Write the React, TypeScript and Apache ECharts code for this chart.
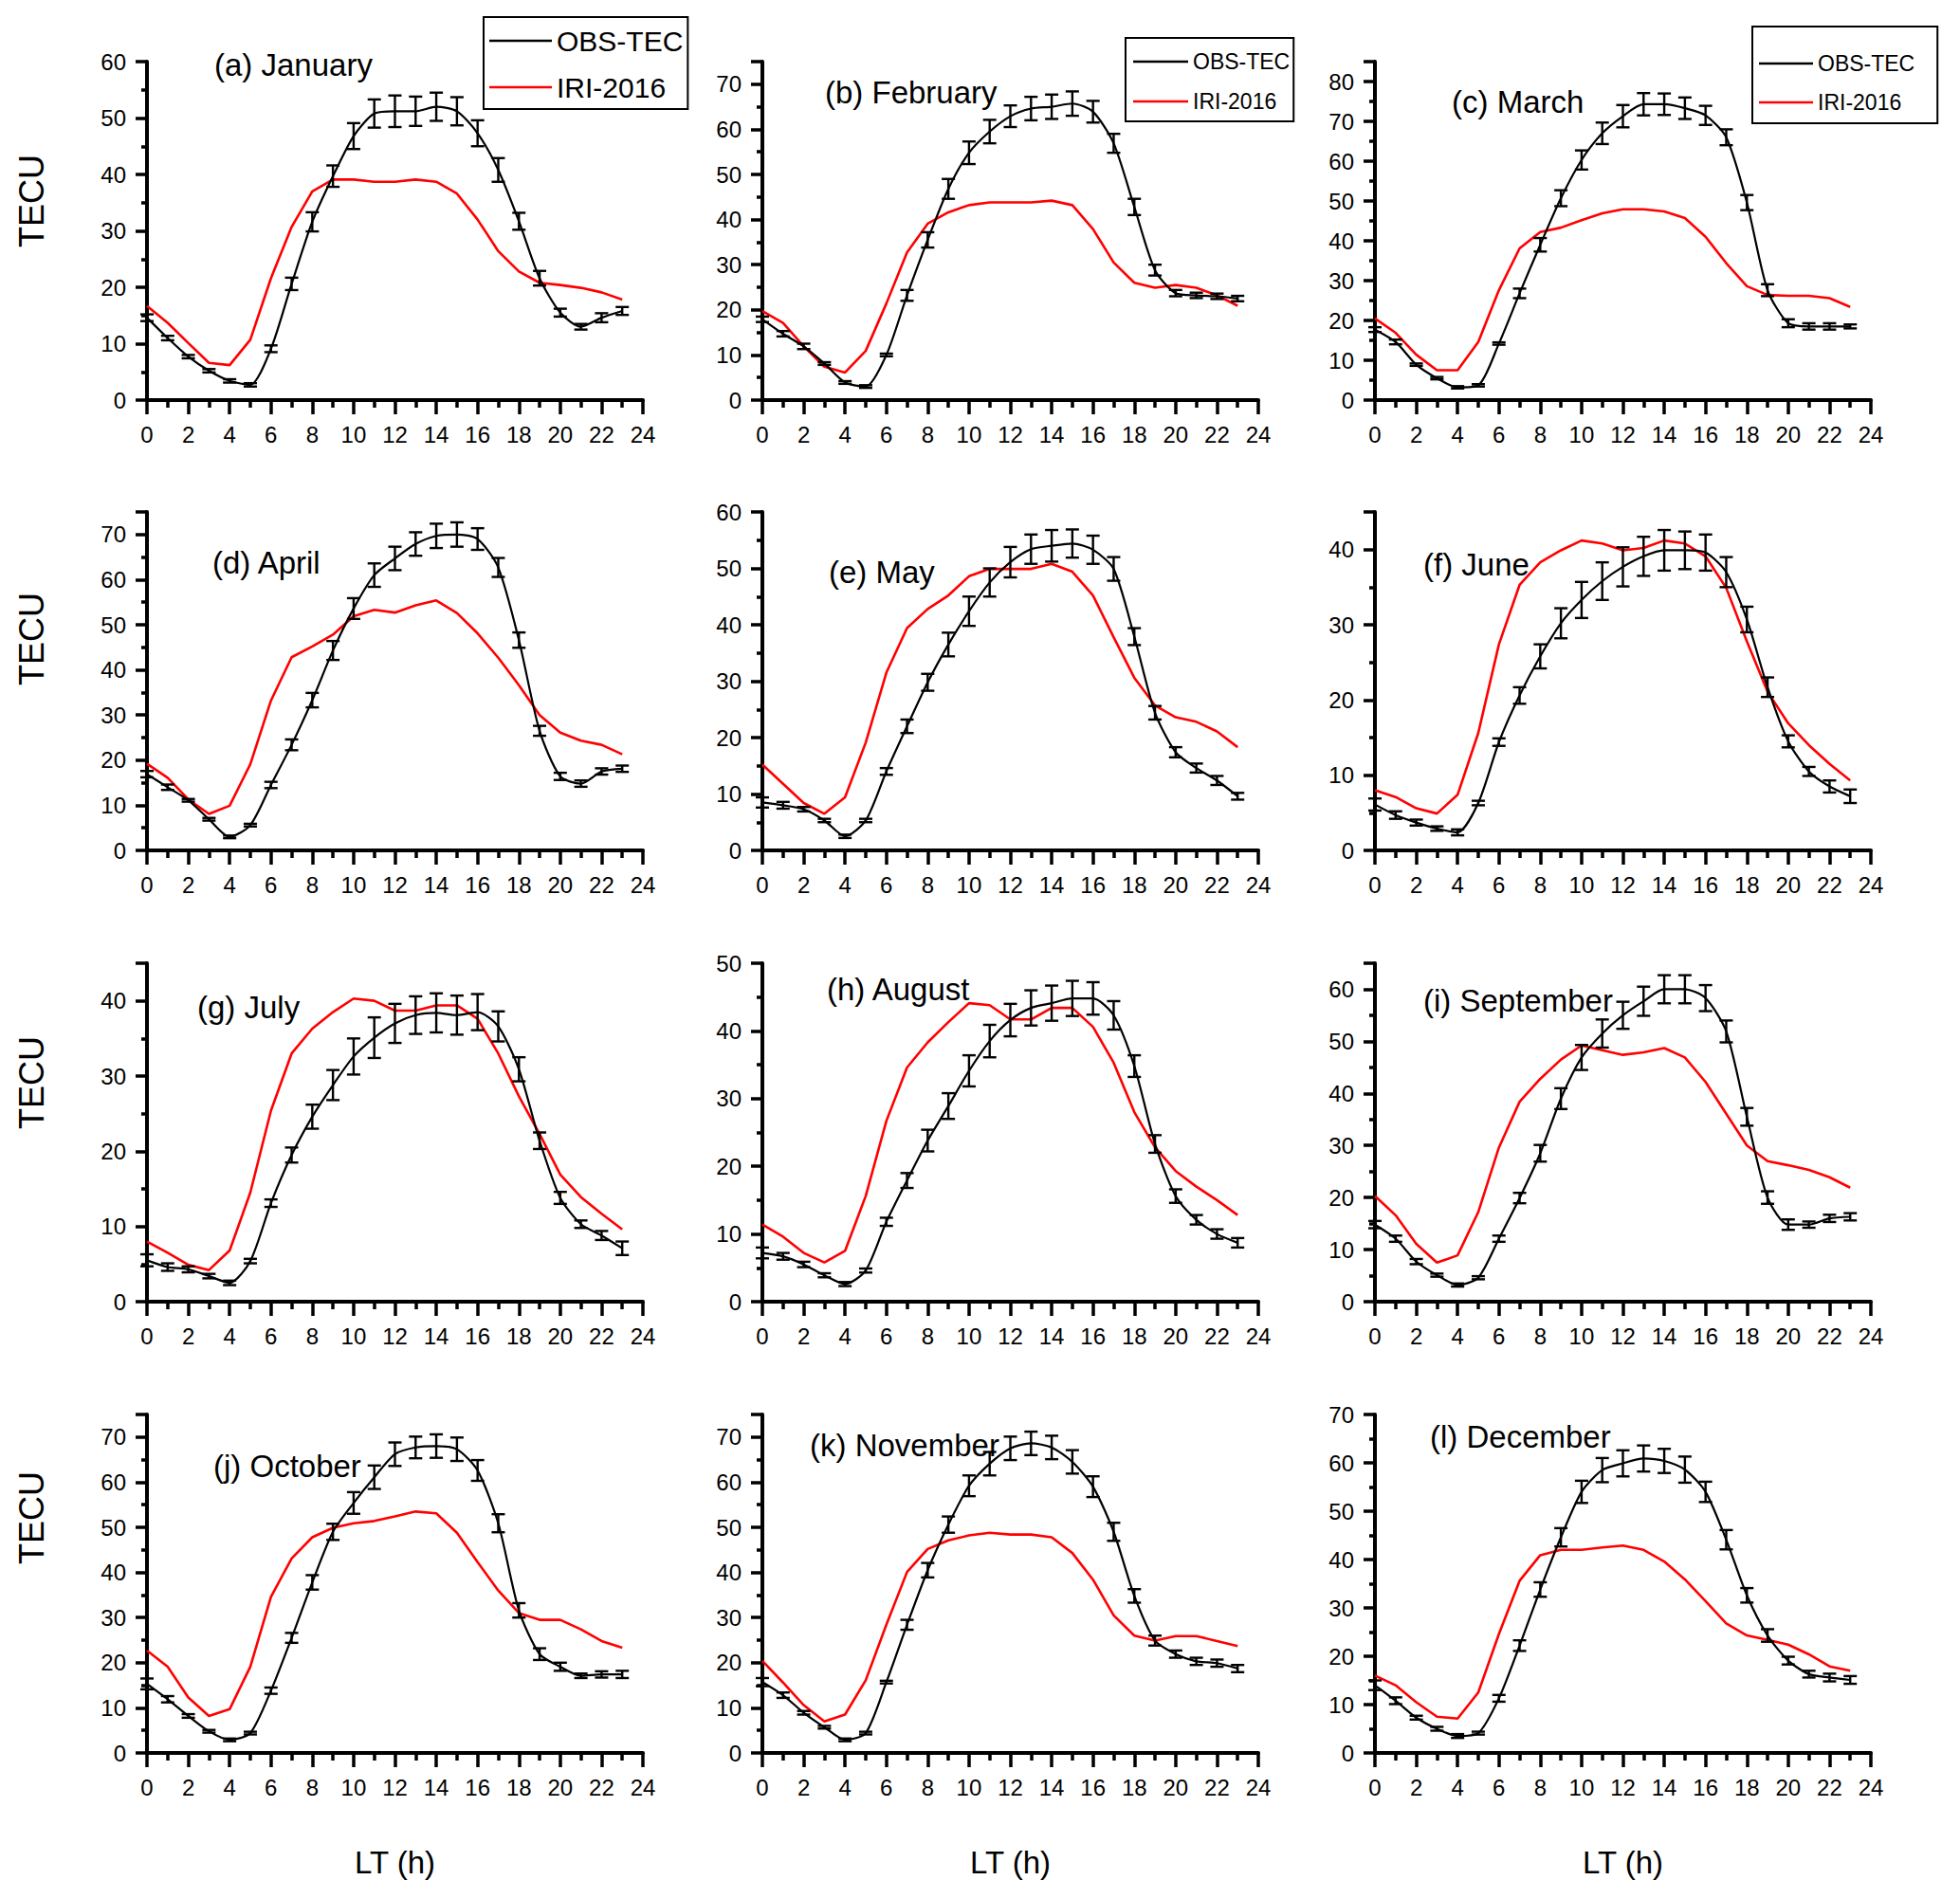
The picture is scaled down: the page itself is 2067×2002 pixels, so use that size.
import React, { useEffect, useRef } from "react";
import * as echarts from "echarts";

// ---------- DATA ----------
const hours = [0, 1, 2, 3, 4, 5, 6, 7, 8, 9, 10, 11, 12, 13, 14, 15, 16, 17, 18, 19, 20, 21, 22, 23];

const obsJan = [14.6, 11.0, 7.7, 5.2, 3.4, 2.7, 9.1, 20.6, 31.6, 39.7, 46.8, 50.8, 51.2, 51.2, 52.0, 51.2, 47.3, 40.8, 31.7, 21.6, 15.5, 13.0, 14.6, 15.8];
const errJan = [0.6, 0.4, 0.3, 0.3, 0.3, 0.3, 0.6, 1.1, 1.7, 1.9, 2.3, 2.5, 2.8, 2.6, 2.5, 2.5, 2.3, 2.1, 1.5, 1.3, 0.7, 0.5, 0.8, 0.7];
const iriJan = [16.7, 13.7, 10.1, 6.6, 6.2, 10.7, 21.6, 30.7, 37.0, 39.1, 39.1, 38.7, 38.7, 39.1, 38.7, 36.6, 32.0, 26.4, 22.8, 20.8, 20.4, 19.9, 19.1, 17.8];

const obsFeb = [17.9, 14.7, 11.9, 8.1, 3.9, 3.0, 10.0, 23.2, 35.5, 46.8, 54.8, 59.5, 62.9, 64.6, 65.0, 65.7, 63.9, 56.9, 42.8, 28.8, 23.7, 23.2, 23.0, 22.5];
const errFeb = [0.6, 0.6, 0.6, 0.3, 0.3, 0.3, 0.3, 1.2, 1.7, 2.2, 2.5, 2.6, 2.4, 2.6, 2.7, 2.7, 2.4, 2.1, 1.8, 1.2, 0.7, 0.6, 0.6, 0.6];
const iriFeb = [19.7, 17.1, 11.9, 7.4, 6.1, 10.9, 21.4, 32.7, 39.1, 41.6, 43.2, 43.8, 43.8, 43.8, 44.2, 43.2, 37.9, 30.5, 26.0, 24.9, 25.5, 24.9, 23.2, 20.9];

const obsMar = [17.7, 14.6, 8.9, 5.5, 3.2, 3.7, 14.2, 26.8, 39.0, 50.7, 60.3, 67.0, 71.3, 74.3, 74.3, 73.3, 71.5, 66.0, 49.6, 27.6, 19.3, 18.5, 18.5, 18.5];
const errMar = [0.6, 0.6, 0.3, 0.3, 0.3, 0.3, 0.3, 1.2, 1.7, 2.0, 2.4, 2.7, 2.8, 2.8, 2.7, 2.7, 2.4, 2.0, 1.9, 1.5, 1.0, 0.8, 0.8, 0.5];
const iriMar = [20.5, 16.9, 11.4, 7.5, 7.5, 14.6, 27.6, 38.1, 42.2, 43.3, 45.2, 46.9, 47.9, 47.9, 47.4, 45.7, 41.0, 34.4, 28.6, 26.4, 26.2, 26.2, 25.6, 23.4];

const obsApr = [16.9, 14.0, 11.1, 6.9, 3.0, 5.6, 14.5, 23.4, 33.3, 44.3, 53.6, 61.0, 64.7, 67.9, 69.7, 70.0, 69.0, 62.7, 46.6, 26.5, 16.4, 14.8, 17.5, 18.1];
const errApr = [0.7, 0.6, 0.3, 0.3, 0.3, 0.3, 0.7, 1.2, 1.6, 2.1, 2.3, 2.6, 2.6, 2.6, 2.7, 2.7, 2.4, 2.1, 1.7, 1.1, 0.8, 0.7, 0.7, 0.7];
const iriApr = [19.2, 16.1, 11.3, 8.1, 9.9, 19.1, 33.2, 42.8, 45.2, 47.8, 51.9, 53.3, 52.7, 54.3, 55.4, 52.6, 48.1, 42.7, 36.6, 30.0, 26.1, 24.3, 23.4, 21.3];

const obsMay = [8.5, 8.0, 7.3, 5.3, 2.5, 5.3, 14.0, 22.0, 29.8, 36.5, 42.4, 47.5, 51.1, 53.4, 54.0, 54.4, 53.3, 49.9, 37.9, 24.4, 17.4, 14.6, 12.4, 9.6];
const errMay = [0.9, 0.6, 0.4, 0.3, 0.3, 0.3, 0.6, 1.2, 1.5, 2.1, 2.6, 2.5, 2.7, 2.6, 2.8, 2.5, 2.5, 2.1, 1.5, 1.2, 0.9, 0.8, 0.8, 0.6];
const iriMay = [15.2, 11.8, 8.4, 6.5, 9.4, 19.1, 31.5, 39.4, 42.8, 45.2, 48.6, 49.9, 49.9, 49.9, 50.8, 49.4, 45.2, 37.8, 30.6, 25.7, 23.6, 22.8, 21.1, 18.3];

const obsJun = [6.1, 4.7, 3.7, 2.9, 2.4, 6.3, 14.4, 20.6, 25.8, 30.2, 33.3, 35.8, 37.7, 39.1, 39.9, 39.9, 39.6, 37.0, 30.7, 21.7, 14.5, 10.5, 8.5, 7.2];
const errJun = [0.8, 0.5, 0.4, 0.3, 0.4, 0.3, 0.5, 1.1, 1.6, 2.0, 2.4, 2.5, 2.6, 2.6, 2.7, 2.5, 2.4, 2.0, 1.7, 1.3, 0.8, 0.6, 0.8, 0.9];
const iriJun = [8.0, 7.1, 5.6, 4.9, 7.4, 15.6, 27.4, 35.3, 38.3, 39.9, 41.2, 40.8, 39.9, 40.2, 41.2, 40.8, 39.1, 34.9, 27.8, 21.1, 16.9, 14.0, 11.5, 9.3];

const obsJul = [5.5, 4.6, 4.3, 3.4, 2.5, 5.4, 13.1, 19.5, 24.6, 28.8, 32.6, 35.1, 37.0, 38.1, 38.4, 38.1, 38.5, 36.6, 30.9, 21.4, 13.8, 10.3, 8.8, 7.1];
const errJul = [0.8, 0.5, 0.4, 0.3, 0.3, 0.3, 0.5, 1.0, 1.6, 2.0, 2.4, 2.7, 2.6, 2.5, 2.6, 2.6, 2.4, 2.0, 1.6, 1.1, 0.8, 0.5, 0.6, 0.9];
const iriJul = [8.0, 6.5, 4.9, 4.2, 6.8, 14.5, 25.4, 33.0, 36.3, 38.5, 40.3, 40.0, 38.7, 38.7, 39.4, 39.4, 37.6, 33.0, 27.3, 22.3, 16.9, 13.9, 11.7, 9.6];

const obsAug = [7.2, 6.7, 5.5, 3.9, 2.6, 4.6, 11.8, 17.9, 23.8, 28.9, 34.1, 38.5, 41.6, 43.4, 44.1, 44.8, 44.8, 42.3, 34.8, 23.3, 15.6, 12.1, 10.0, 8.7];
const errAug = [0.8, 0.5, 0.4, 0.3, 0.3, 0.3, 0.6, 1.1, 1.6, 1.9, 2.3, 2.4, 2.4, 2.6, 2.6, 2.6, 2.4, 2.1, 1.6, 1.3, 1.0, 0.7, 0.7, 0.7];
const iriAug = [11.4, 9.6, 7.2, 5.8, 7.5, 15.6, 26.7, 34.6, 38.3, 41.3, 44.1, 43.8, 41.7, 41.7, 43.4, 43.4, 40.6, 35.3, 28.0, 22.8, 19.3, 17.0, 15.0, 12.8];

const obsSep = [14.8, 12.1, 7.7, 5.1, 3.2, 4.6, 12.1, 19.9, 28.5, 39.0, 46.9, 51.5, 55.0, 57.7, 60.0, 60.0, 58.3, 51.9, 35.5, 20.0, 14.8, 14.8, 16.0, 16.3];
const errSep = [0.7, 0.6, 0.5, 0.3, 0.3, 0.3, 0.6, 1.0, 1.6, 2.0, 2.4, 2.7, 2.6, 2.8, 2.7, 2.7, 2.5, 2.1, 1.7, 1.2, 1.0, 0.6, 0.7, 0.7];
const iriSep = [20.3, 16.6, 11.1, 7.5, 8.9, 17.2, 29.6, 38.4, 42.8, 46.5, 49.2, 48.3, 47.4, 47.9, 48.7, 46.9, 42.2, 36.1, 30.0, 27.0, 26.2, 25.3, 23.9, 21.9];

const obsOct = [15.3, 11.9, 8.2, 4.8, 2.9, 4.4, 13.8, 25.5, 37.8, 49.0, 55.4, 61.1, 66.2, 67.7, 68.0, 67.3, 62.6, 50.9, 31.6, 21.9, 19.1, 17.1, 17.4, 17.4];
const errOct = [1.2, 0.7, 0.4, 0.3, 0.3, 0.3, 0.7, 1.1, 1.6, 1.8, 2.4, 2.6, 2.6, 2.4, 2.6, 2.6, 2.3, 2.0, 1.6, 1.3, 0.9, 0.5, 0.7, 0.8];
const iriOct = [22.7, 19.1, 12.3, 8.2, 9.7, 19.1, 34.6, 43.1, 47.8, 49.9, 50.9, 51.4, 52.4, 53.5, 53.1, 48.8, 42.3, 36.0, 31.0, 29.5, 29.5, 27.4, 24.8, 23.3];

const obsNov = [15.7, 12.8, 8.9, 5.7, 2.9, 4.4, 15.7, 28.4, 40.5, 50.6, 59.2, 64.1, 67.5, 68.6, 67.7, 64.5, 59.0, 49.0, 34.8, 24.9, 21.9, 20.3, 19.9, 18.7];
const errNov = [0.9, 0.6, 0.4, 0.3, 0.3, 0.3, 0.3, 1.1, 1.6, 1.8, 2.3, 2.6, 2.6, 2.6, 2.6, 2.6, 2.3, 2.0, 1.5, 1.1, 0.8, 0.8, 0.8, 0.8];
const iriNov = [20.4, 15.6, 10.6, 7.0, 8.5, 16.1, 28.4, 40.1, 45.2, 47.1, 48.2, 48.8, 48.4, 48.4, 47.8, 44.3, 38.4, 30.5, 26.0, 24.9, 25.9, 25.9, 24.8, 23.7];

const obsDec = [14.0, 10.8, 7.3, 5.0, 3.5, 4.1, 11.3, 22.2, 33.8, 44.6, 54.0, 58.5, 59.9, 60.9, 60.4, 58.6, 54.0, 44.1, 32.6, 24.3, 19.1, 16.3, 15.6, 15.1];
const errDec = [1.0, 0.7, 0.4, 0.4, 0.4, 0.3, 0.7, 1.1, 1.5, 1.9, 2.3, 2.5, 2.7, 2.7, 2.5, 2.7, 2.1, 2.0, 1.5, 1.3, 0.8, 0.7, 0.8, 0.8];
const iriDec = [16.0, 14.0, 10.5, 7.5, 7.1, 12.5, 24.6, 35.6, 40.9, 42.0, 42.0, 42.5, 42.9, 42.0, 39.6, 35.9, 31.4, 26.8, 24.3, 23.4, 22.4, 20.4, 17.9, 17.0];

const panelTitles = ["(a) January", "(b) February", "(c) March", "(d) April", "(e) May", "(f) June", "(g) July", "(h) August", "(i) September", "(j) October", "(k) November", "(l) December"];
const yMaxes = [60, 75, 85, 75, 60, 45, 45, 50, 65, 75, 75, 70];
const obsAll = [obsJan, obsFeb, obsMar, obsApr, obsMay, obsJun, obsJul, obsAug, obsSep, obsOct, obsNov, obsDec];
const errAll = [errJan, errFeb, errMar, errApr, errMay, errJun, errJul, errAug, errSep, errOct, errNov, errDec];
const iriAll = [iriJan, iriFeb, iriMar, iriApr, iriMay, iriJun, iriJul, iriAug, iriSep, iriOct, iriNov, iriDec];

const legendNames = ["OBS-TEC", "IRI-2016"];
const yAxisName = "TECU";
const xAxisName = "LT (h)";

// ---------- LAYOUT ----------
const W = 2067;
const H = 2002;
const gridLeft = [155, 804, 1450];
const gridTop = [65, 540, 1016, 1492];
const gridW = 523;
const gridH = 357;
const titlePos = [
  [226, 68], [870, 97], [1531, 107],
  [224, 593], [874, 603], [1501, 595],
  [208, 1062], [872, 1043], [1501, 1055],
  [225, 1546], [854, 1524], [1508, 1515],
];
const tecuY = [212, 674, 1142, 1601];
const FONT = '"Liberation Sans", Arial, Helvetica, sans-serif';

function buildOption() {
  const grid: any[] = [];
  const xAxis: any[] = [];
  const yAxis: any[] = [];
  const series: any[] = [];
  const graphic: any[] = [];

  for (let i = 0; i < 12; i++) {
    const r = Math.floor(i / 3);
    const c = i % 3;
    const yMax = yMaxes[i];
    grid.push({ left: gridLeft[c], top: gridTop[r], width: gridW, height: gridH, outerBoundsMode: "none", containLabel: false });
    xAxis.push({
      type: "value",
      gridIndex: i,
      min: 0,
      max: 24,
      interval: 2,
      axisLine: { show: true, onZero: false, lineStyle: { color: "#000", width: 4 } },
      axisTick: { show: true, inside: false, length: 15, lineStyle: { color: "#000", width: 3.5 } },
      minorTick: { show: true, splitNumber: 2, length: 8, lineStyle: { color: "#000", width: 3.5 } },
      splitLine: { show: false },
      minorSplitLine: { show: false },
      axisLabel: { show: true, fontFamily: FONT, fontSize: 24, color: "#000", margin: 24 },
      name: r === 3 ? xAxisName : "",
      nameLocation: "middle",
      nameGap: 99,
      nameTextStyle: { fontFamily: FONT, fontSize: 33, color: "#000" },
    });
    yAxis.push({
      type: "value",
      gridIndex: i,
      min: 0,
      max: yMax,
      interval: 10,
      axisLine: { show: true, onZero: false, lineStyle: { color: "#000", width: 4 } },
      axisTick: { show: true, inside: false, length: 12, lineStyle: { color: "#000", width: 3.5 } },
      minorTick: { show: true, splitNumber: 2, length: 6, lineStyle: { color: "#000", width: 3.5 } },
      splitLine: { show: false },
      minorSplitLine: { show: false },
      axisLabel: { show: true, fontFamily: FONT, fontSize: 24, color: "#000", margin: 22, showMaxLabel: yMax % 10 === 0 },
    });

    series.push({
      type: "line",
      name: legendNames[1],
      xAxisIndex: i,
      yAxisIndex: i,
      data: hours.map((h, k) => [h, iriAll[i][k]]),
      color: "#ff0000",
      symbol: "none",
      showSymbol: false,
      lineStyle: { color: "#ff0000", width: 2.6 },
      z: 2,
    });
    series.push({
      type: "line",
      name: legendNames[0],
      xAxisIndex: i,
      yAxisIndex: i,
      data: hours.map((h, k) => [h, obsAll[i][k]]),
      color: "#000000",
      symbol: "none",
      showSymbol: false,
      smooth: 0.25,
      lineStyle: { color: "#000000", width: 2.2 },
      z: 3,
    });
    series.push({
      type: "custom",
      name: "error",
      xAxisIndex: i,
      yAxisIndex: i,
      data: hours.map((h, k) => [h, obsAll[i][k], errAll[i][k]]),
      encode: { x: 0, y: 1 },
      z: 4,
      renderItem: (params: any, api: any) => {
        const x = api.value(0);
        const y = api.value(1);
        const e = api.value(2);
        const top = api.coord([x, y + e]);
        const bot = api.coord([x, y - e]);
        const hw = 7;
        const st = { stroke: "#000", lineWidth: 2.4, fill: null };
        return {
          type: "group",
          children: [
            { type: "line", shape: { x1: top[0], y1: top[1], x2: bot[0], y2: bot[1] }, style: st },
            { type: "line", shape: { x1: top[0] - hw, y1: top[1], x2: top[0] + hw, y2: top[1] }, style: st },
            { type: "line", shape: { x1: bot[0] - hw, y1: bot[1], x2: bot[0] + hw, y2: bot[1] }, style: st },
          ],
        };
      },
    });

    graphic.push({
      type: "text",
      x: titlePos[i][0],
      y: titlePos[i][1],
      z: 50,
      style: {
        text: panelTitles[i],
        fontSize: 33,
        fontFamily: FONT,
        fill: "#000",
        align: "left",
        textAlign: "left",
        verticalAlign: "middle",
        textVerticalAlign: "middle",
      },
    });
  }

  for (let r = 0; r < 4; r++) {
    graphic.push({
      type: "text",
      x: 33,
      y: tecuY[r],
      rotation: Math.PI / 2,
      z: 50,
      style: {
        text: yAxisName,
        fontSize: 36,
        fontFamily: FONT,
        fill: "#000",
        align: "center",
        textAlign: "center",
        verticalAlign: "middle",
        textVerticalAlign: "middle",
      },
    });
  }

  const legendBase = {
    orient: "vertical",
    selectedMode: false,
    borderColor: "#000",
    borderWidth: 2,
    backgroundColor: "#fff",
    itemHeight: 2.5,
    z: 20,
    data: legendNames.map((n) => ({ name: n, icon: "rect" })),
  };
  const legend = [
    { ...legendBase, left: 510, top: 18, padding: [10, 5, 8, 6], itemGap: 19, itemWidth: 66, textStyle: { fontFamily: FONT, fontSize: 30, lineHeight: 30, color: "#000" } },
    { ...legendBase, left: 1187, top: 40, padding: [13, 4, 9, 8], itemGap: 18, itemWidth: 58, textStyle: { fontFamily: FONT, fontSize: 23, lineHeight: 24, color: "#000" } },
    { ...legendBase, left: 1848, top: 28, padding: [27, 24, 10, 7], itemGap: 17, itemWidth: 57, textStyle: { fontFamily: FONT, fontSize: 23, lineHeight: 24, color: "#000" } },
  ];

  return {
    animation: false,
    backgroundColor: "#fff",
    grid,
    xAxis,
    yAxis,
    series,
    legend,
    graphic,
  };
}

export default function App() {
  const ref = useRef<HTMLDivElement>(null);
  useEffect(() => {
    if (!ref.current) return;
    const chart = echarts.init(ref.current, undefined, { renderer: "svg" });
    chart.setOption(buildOption() as any);
    return () => {
      chart.dispose();
    };
  }, []);
  return (
    <div
      ref={ref}
      style={{ position: "absolute", left: 0, top: 0, width: W, height: H, background: "#fff" }}
    />
  );
}
